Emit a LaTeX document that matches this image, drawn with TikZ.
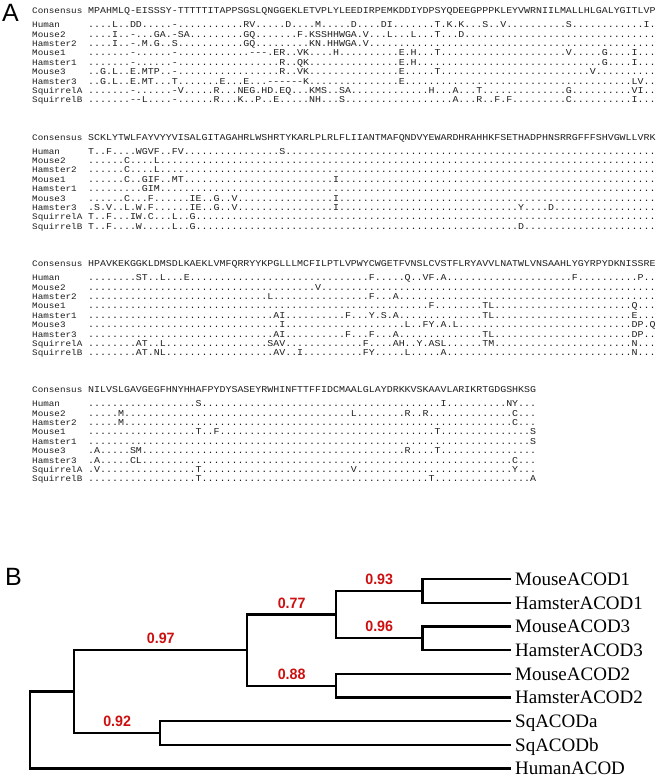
\documentclass[tikz,border=0pt]{standalone}
\usepackage{fontspec}
\usepackage{tikz}
\usetikzlibrary{positioning}
\newfontfamily\alnfont{Liberation Mono}[FakeStretch=1.106]
\newfontfamily\treefont{Liberation Serif}
\newfontfamily\panelfont{Liberation Sans}
\newfontfamily\bootfont{Liberation Sans}[FakeStretch=0.95]
\definecolor{bootred}{RGB}{204,16,16}
\definecolor{alngray}{RGB}{30,30,30}
\newcommand\gp{-\kern0pt}
\newcommand\dten{..........}
\newcommand\dfive{.....}
\newcommand\rowname[1]{\makebox[56pt][l]{\fontsize{8.4}{9}\selectfont #1}}
\tikzset{
  alnrow/.style={anchor=base west, inner sep=0pt, text=alngray, font={\alnfont\fontsize{9}{9}\selectfont}},
  panel/.style={anchor=base west, inner sep=0pt, font={\panelfont\fontsize{25}{25}\selectfont}},
  branch/.style={draw=black, line width=2.3pt},
  leaf/.style={anchor=west, inner xsep=4pt, inner ysep=0pt, text height=12.6pt, text depth=0pt, font={\treefont\fontsize{19}{19}\selectfont}},
  boot/.style={above=5pt, inner sep=0pt, text=bootred, font={\bootfont\bfseries\fontsize{15}{15}\selectfont}}
}
\begin{document}
\begin{tikzpicture}[x=1pt,y=-1pt]
  \useasboundingbox (0,0) rectangle (661,780);

  % panel letters
  \node[panel] (labA) at (2,21) {A};
  \node[panel] (labB) at (5,585) {B};

  % alignment, first block
  \node[alnrow] (b1cons) at (32,13.6) {\rowname{Consensus}MPAHMLQ\gp EI{}SSSY\gp TTTTT{}ITAPPSGSLQ{}NGGEKLETVP{}LYLEEDIRPE{}MKDDIYDPSY{}QDEEGPPPKL{}EYVWRNIILM{}ALLHLGALYG{}ITLVP};
  \node[alnrow] (b1hum) at (32,27.6) {\rowname{Human}....L..DD.{}....\gp .....{}......RV..{}...D....M.{}....D....D{}I.......T.{}K.K...S..V{}\dten{}S.........{}...I.};
  \node[alnrow] (b1mo2) at (32,37.0) {\rowname{Mouse2}....I..\gp ..{}.GA.\gp SA...{}......GQ..{}.....F.KSS{}HHWGA.V...{}L...L...T.{}..D.......{}\dten{}\dten{}\dfive};
  \node[alnrow] (b1ha2) at (32,46.4) {\rowname{Hamster2}....I..\gp .M{}.G..S.....{}......GQ..{}.......KN.{}HHWGA.V...{}\dten{}\dten{}\dten{}\dten{}\dfive};
  \node[alnrow] (b1mo1) at (32,55.8) {\rowname{Mouse1}.......\gp ..{}....\gp .....{}.......\gp\gp\gp{}.ER..VK...{}.H........{}..E.H...T.{}\dten{}\dten{}V.....G...{}.I...};
  \node[alnrow] (b1ha1) at (32,65.2) {\rowname{Hamster1}.......\gp ..{}....\gp .....{}\dten{}..R..QK...{}\dten{}..E.H.....{}\dten{}\dten{}......G...{}.I...};
  \node[alnrow] (b1mo3) at (32,74.6) {\rowname{Mouse3}..G.L..E.M{}TP..\gp .....{}\dten{}..R..VK...{}\dten{}..E.....T.{}\dten{}\dten{}....V.....{}\dfive};
  \node[alnrow] (b1ha3) at (32,84.0) {\rowname{Hamster3}..G.L..E.M{}T...T.....{}..E...E...{}\gp\gp\gp\gp\gp\gp K...{}\dten{}..E.......{}\dten{}\dten{}\dten{}.LV..};
  \node[alnrow] (b1sqa) at (32,93.4) {\rowname{SquirrelA}.......\gp ..{}....\gp V....{}.R...NEG.H{}D.EQ...KMS{}..SA......{}.......H..{}.A...T....{}\dten{}G.........{}.VI..};
  \node[alnrow] (b1sqb) at (32,102.8) {\rowname{SquirrelB}.......\gp\gp L{}....\gp .....{}.R...K..P.{}.E.....NH.{}..S.......{}\dten{}.A...R..F.{}F.........{}C.........{}.I...};

  % alignment, second block
  \node[alnrow] (b2cons) at (32,140.1) {\rowname{Consensus}SCKLYTWLFA{}YVYYVISALG{}ITAGAHRLWS{}HRTYKARLPL{}RLFLIIANTM{}AFQNDVYEWA{}RDHRAHHKFS{}ETHADPHNSR{}RGFFFSHVGW{}LLVRK};
  \node[alnrow] (b2hum) at (32,154.1) {\rowname{Human}T..F....WG{}VF..FV....{}\dten{}..S.......{}\dten{}\dten{}\dten{}\dten{}\dten{}\dfive};
  \node[alnrow] (b2mo2) at (32,163.5) {\rowname{Mouse2}......C...{}.L........{}\dten{}\dten{}\dten{}\dten{}\dten{}\dten{}\dten{}\dfive};
  \node[alnrow] (b2ha2) at (32,172.9) {\rowname{Hamster2}......C...{}.L........{}\dten{}\dten{}\dten{}\dten{}\dten{}\dten{}\dten{}\dfive};
  \node[alnrow] (b2mo1) at (32,182.3) {\rowname{Mouse1}......C..G{}IF..MT....{}\dten{}\dten{}.I........{}\dten{}\dten{}\dten{}\dten{}\dfive};
  \node[alnrow] (b2ha1) at (32,191.7) {\rowname{Hamster1}.........G{}IM........{}\dten{}\dten{}\dten{}\dten{}\dten{}\dten{}\dten{}\dfive};
  \node[alnrow] (b2mo3) at (32,201.1) {\rowname{Mouse3}......C...{}F......IE.{}.G..V.....{}\dten{}.I........{}\dten{}\dten{}\dten{}\dten{}\dfive};
  \node[alnrow] (b2ha3) at (32,210.5) {\rowname{Hamster3}.S.V..L.W.{}F......IE.{}.G..V.....{}\dten{}.I........{}\dten{}\dten{}..Y....D..{}\dten{}\dfive};
  \node[alnrow] (b2sqa) at (32,219.9) {\rowname{SquirrelA}T..F...IW.{}C...L..G..{}\dten{}\dten{}\dten{}\dten{}\dten{}\dten{}\dten{}\dfive};
  \node[alnrow] (b2sqb) at (32,229.3) {\rowname{SquirrelB}T..F....W.{}....L..G..{}\dten{}\dten{}\dten{}\dten{}\dten{}..D.......{}\dten{}\dfive};

  % alignment, third block
  \node[alnrow] (b3cons) at (32,266.6) {\rowname{Consensus}HPAVKEKGGK{}LDMSDLKAEK{}LVMFQRRYYK{}PGLLLMCFIL{}PTLVPWYCWG{}ETFVNSLCVS{}TFLRYAVVLN{}ATWLVNSAAH{}LYGYRPYDKN{}ISSRE};
  \node[alnrow] (b3hum) at (32,280.6) {\rowname{Human}........ST{}..L...E...{}\dten{}\dten{}.......F..{}...Q..VF.A{}\dten{}\dten{}.F........{}..P..};
  \node[alnrow] (b3mo2) at (32,290.0) {\rowname{Mouse2}\dten{}\dten{}\dten{}........V.{}\dten{}\dten{}\dten{}\dten{}\dten{}\dfive};
  \node[alnrow] (b3ha2) at (32,299.4) {\rowname{Hamster2}\dten{}\dten{}\dten{}L.........{}.......F..{}.A........{}\dten{}\dten{}\dten{}\dfive};
  \node[alnrow] (b3mo1) at (32,308.8) {\rowname{Mouse1}\dten{}\dten{}\dten{}\dten{}\dten{}.......F..{}......TL..{}\dten{}\dten{}.Q...};
  \node[alnrow] (b3ha1) at (32,318.2) {\rowname{Hamster1}\dten{}\dten{}\dten{}.AI.......{}...F...Y.S{}.A........{}......TL..{}\dten{}\dten{}.E...};
  \node[alnrow] (b3mo3) at (32,327.6) {\rowname{Mouse3}\dten{}\dten{}\dten{}..I.......{}\dten{}...L..FY.A{}.L........{}\dten{}\dten{}.DP.Q};
  \node[alnrow] (b3ha3) at (32,337.0) {\rowname{Hamster3}\dten{}\dten{}\dten{}.AI.......{}...F...F..{}.A........{}......TL..{}\dten{}\dten{}.DP..};
  \node[alnrow] (b3sqa) at (32,346.4) {\rowname{SquirrelA}........AT{}..L.......{}\dten{}SAV.......{}......F...{}.AH..Y.ASL{}......TM..{}\dten{}\dten{}.N...};
  \node[alnrow] (b3sqb) at (32,355.8) {\rowname{SquirrelB}........AT{}.NL.......{}\dten{}.AV..I....{}......FY..{}...L.....A{}\dten{}\dten{}\dten{}.N...};

  % alignment, fourth block
  \node[alnrow] (b4cons) at (32,392.6) {\rowname{Consensus}NILVSLGAVG{}EGFHNYHHAF{}PYDYSASEYR{}WHINFTTFFI{}DCMAALGLAY{}DRKKVSKAAV{}LARIKRTGDG{}SHKSG};
  \node[alnrow] (b4hum) at (32,406.6) {\rowname{Human}\dten{}........S.{}\dten{}\dten{}\dten{}.........I{}\dten{}NY...};
  \node[alnrow] (b4mo2) at (32,416.0) {\rowname{Mouse2}.....M....{}\dten{}\dten{}\dten{}....L.....{}...R..R...{}\dten{}.C...};
  \node[alnrow] (b4ha2) at (32,425.4) {\rowname{Hamster2}.....M....{}\dten{}\dten{}\dten{}\dten{}\dten{}\dten{}.C...};
  \node[alnrow] (b4mo1) at (32,434.8) {\rowname{Mouse1}\dten{}........T.{}.F........{}\dten{}\dten{}........T.{}\dten{}....S};
  \node[alnrow] (b4ha1) at (32,444.2) {\rowname{Hamster1}\dten{}\dten{}\dten{}\dten{}\dten{}\dten{}\dten{}....S};
  \node[alnrow] (b4mo3) at (32,453.6) {\rowname{Mouse3}.A.....SM.{}\dten{}\dten{}\dten{}\dten{}...R....T.{}\dten{}\dfive};
  \node[alnrow] (b4ha3) at (32,463.0) {\rowname{Hamster3}.A.....CL.{}\dten{}\dten{}\dten{}\dten{}\dten{}\dten{}.C...};
  \node[alnrow] (b4sqa) at (32,472.4) {\rowname{SquirrelA}.V........{}........T.{}\dten{}\dten{}....V.....{}\dten{}\dten{}.Y...};
  \node[alnrow] (b4sqb) at (32,481.8) {\rowname{SquirrelB}\dten{}........T.{}\dten{}\dten{}\dten{}.......T..{}\dten{}....A};

  % tree leaves
  \node[leaf] (mo1) at (511,579.0) {MouseACOD1};
  \node[leaf] (ha1) at (511,602.7) {HamsterACOD1};
  \node[leaf] (mo3) at (511,626.4) {MouseACOD3};
  \node[leaf] (ha3) at (511,650.1) {HamsterACOD3};
  \node[leaf] (mo2) at (511,673.8) {MouseACOD2};
  \node[leaf] (ha2) at (511,697.5) {HamsterACOD2};
  \node[leaf] (sqa) at (511,721.2) {SqACODa};
  \node[leaf] (sqb) at (511,744.9) {SqACODb};
  \node[leaf] (hum) at (511,768.6) {HumanACOD};

  % inner nodes of the tree
  \coordinate (root) at (30,730.1);
  \coordinate (nA) at (74.3,691.6);
  \coordinate (nSq) at (160,733.05);
  \coordinate (nC) at (247.3,650.1);
  \coordinate (nD) at (336,614.55);
  \coordinate (nM2) at (336,685.65);
  \coordinate (nE1) at (422.4,590.85);
  \coordinate (nE3) at (422.4,638.25);

  % branches
  \draw[branch] (root) |- (nA);
  \draw[branch] (root) |- (hum.west);
  \draw[branch] (nA) |- node[boot, pos=0.75] {0.97} (nC);
  \draw[branch] (nA) |- node[boot, pos=0.75] {0.92} (nSq);
  \draw[branch] (nSq) |- (sqa.west);
  \draw[branch] (nSq) |- (sqb.west);
  \draw[branch] (nC) |- node[boot, pos=0.75] {0.77} (nD);
  \draw[branch] (nC) |- node[boot, pos=0.75] {0.88} (nM2);
  \draw[branch] (nM2) |- (mo2.west);
  \draw[branch] (nM2) |- (ha2.west);
  \draw[branch] (nD) |- node[boot, pos=0.75] {0.93} (nE1);
  \draw[branch] (nD) |- node[boot, pos=0.75] {0.96} (nE3);
  \draw[branch] (nE1) |- (mo1.west);
  \draw[branch] (nE1) |- (ha1.west);
  \draw[branch] (nE3) |- (mo3.west);
  \draw[branch] (nE3) |- (ha3.west);
\end{tikzpicture}
\end{document}
